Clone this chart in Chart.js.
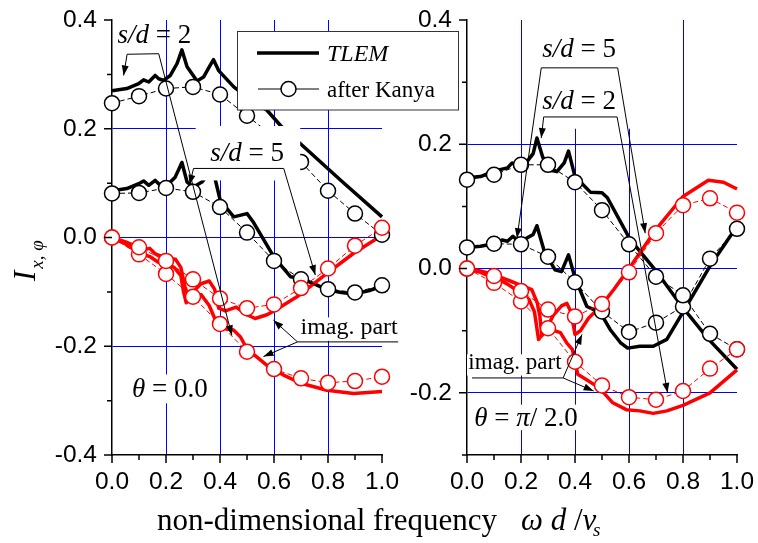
<!DOCTYPE html>
<html>
<head>
<meta charset="utf-8">
<script src="https://cdn.jsdelivr.net/npm/chart.js@4"></script>
<style>
  html, body { margin: 0; padding: 0; background: #fff; }
  #wrap { position: relative; width: 758px; height: 543px; }
  #wrap canvas { position: absolute; left: 0; top: 0; }
</style>
</head>
<body>
<div id="wrap">
  <canvas id="left" width="758" height="543"></canvas>
  <canvas id="right" width="758" height="543"></canvas>
</div>
<script>
// ---- data ----
const kanyaX = [0, 0.1, 0.2, 0.3, 0.4, 0.5, 0.6, 0.7, 0.8, 0.9, 1.0];

// theta = 0.0 (left panel)
const l2ReKanya = [0.247, 0.260, 0.274, 0.277, 0.263, 0.224, 0.185, 0.139, 0.086, 0.044, 0.005];
const l5ReKanya = [0.081, 0.082, 0.091, 0.084, 0.056, 0.009, -0.043, -0.077, -0.095, -0.101, -0.088];
const l5ImKanya = [0, -0.018, -0.043, -0.077, -0.112, -0.130, -0.123, -0.093, -0.057, -0.015, 0.018];
const l2ImKanya = [0, -0.031, -0.067, -0.109, -0.159, -0.210, -0.242, -0.259, -0.267, -0.264, -0.256];

const l2ReTlemX = [0, 0.055, 0.099, 0.117, 0.136, 0.160, 0.173, 0.191, 0.216, 0.241, 0.259, 0.278, 0.315, 0.339, 0.364, 0.376, 0.395, 0.451, 0.5, 0.574, 0.624, 0.697, 0.85, 1.0];
const l2ReTlemY = [0.270, 0.274, 0.283, 0.290, 0.286, 0.298, 0.292, 0.289, 0.298, 0.320, 0.345, 0.314, 0.288, 0.295, 0.317, 0.327, 0.307, 0.277, 0.258, 0.234, 0.206, 0.173, 0.104, 0.038];
const l5ReTlemX = [0, 0.055, 0.099, 0.117, 0.136, 0.160, 0.179, 0.204, 0.234, 0.259, 0.278, 0.302, 0.333, 0.358, 0.376, 0.401, 0.451, 0.5, 0.525, 0.6, 0.661, 0.697, 0.747, 0.796, 0.85, 0.895, 0.95, 1.0];
const l5ReTlemY = [0.086, 0.090, 0.099, 0.104, 0.096, 0.105, 0.096, 0.096, 0.111, 0.138, 0.102, 0.093, 0.102, 0.117, 0.120, 0.068, 0.038, 0.044, 0.027, -0.036, -0.072, -0.075, -0.085, -0.096, -0.101, -0.104, -0.098, -0.090];
const l5ImTlemX = [0, 0.05, 0.1, 0.12, 0.14, 0.16, 0.2, 0.235, 0.255, 0.27, 0.28, 0.3, 0.33, 0.36, 0.38, 0.395, 0.42, 0.46, 0.5, 0.53, 0.574, 0.6, 0.685, 0.796, 0.895, 1.0];
const l5ImTlemY = [0, -0.008, -0.018, -0.022, -0.020, -0.030, -0.038, -0.040, -0.055, -0.090, -0.105, -0.100, -0.085, -0.080, -0.095, -0.130, -0.135, -0.128, -0.142, -0.149, -0.142, -0.135, -0.109, -0.066, -0.029, 0.004];
const l2ImTlemX = [0, 0.05, 0.1, 0.14, 0.17, 0.2, 0.23, 0.255, 0.265, 0.275, 0.3, 0.33, 0.36, 0.39, 0.42, 0.45, 0.476, 0.5, 0.574, 0.635, 0.7, 0.796, 0.895, 1.0];
const l2ImTlemY = [0, -0.012, -0.028, -0.035, -0.045, -0.050, -0.055, -0.070, -0.100, -0.120, -0.108, -0.105, -0.125, -0.160, -0.168, -0.170, -0.183, -0.205, -0.235, -0.253, -0.268, -0.281, -0.287, -0.283];

// theta = pi/2 (right panel)
const r2ReKanya = [0.143, 0.151, 0.167, 0.167, 0.139, 0.094, 0.039, -0.013, -0.043, -0.105, -0.130];
const r5ReKanya = [0.034, 0.040, 0.039, 0.019, -0.022, -0.069, -0.102, -0.087, -0.061, 0.016, 0.064];
const r5ImKanya = [0, -0.012, -0.036, -0.066, -0.077, -0.057, -0.006, 0.057, 0.102, 0.113, 0.090];
const r2ImKanya = [0, -0.023, -0.053, -0.096, -0.150, -0.188, -0.207, -0.211, -0.197, -0.161, -0.130];

const r2ReTlemX = [0, 0.05, 0.1, 0.13, 0.15, 0.167, 0.19, 0.222, 0.245, 0.259, 0.28, 0.3, 0.333, 0.36, 0.376, 0.4, 0.457, 0.5, 0.52, 0.604, 0.697, 0.796, 0.895, 1.0];
const r2ReTlemY = [0.146, 0.148, 0.157, 0.160, 0.162, 0.170, 0.164, 0.172, 0.185, 0.210, 0.180, 0.159, 0.156, 0.170, 0.189, 0.148, 0.123, 0.122, 0.114, 0.047, -0.002, -0.061, -0.114, -0.162];
const r5ReTlemX = [0, 0.05, 0.1, 0.13, 0.15, 0.17, 0.19, 0.222, 0.245, 0.259, 0.284, 0.31, 0.326, 0.35, 0.376, 0.4, 0.444, 0.494, 0.53, 0.568, 0.595, 0.64, 0.69, 0.74, 0.8, 0.9, 1.0];
const r5ReTlemY = [0.034, 0.036, 0.040, 0.046, 0.044, 0.052, 0.044, 0.049, 0.055, 0.069, 0.031, 0.010, -0.002, -0.005, 0.022, -0.015, -0.061, -0.071, -0.098, -0.119, -0.128, -0.125, -0.125, -0.114, -0.070, 0.004, 0.068];
const r5ImTlemX = [0, 0.05, 0.1, 0.13, 0.16, 0.2, 0.24, 0.26, 0.27, 0.277, 0.29, 0.32, 0.35, 0.37, 0.385, 0.4, 0.42, 0.45, 0.5, 0.543, 0.6, 0.64, 0.7, 0.8, 0.894, 0.95, 1.0];
const r5ImTlemY = [0, -0.004, -0.010, -0.015, -0.020, -0.027, -0.034, -0.055, -0.077, -0.108, -0.100, -0.075, -0.060, -0.056, -0.070, -0.106, -0.100, -0.080, -0.058, -0.034, 0.000, 0.025, 0.063, 0.116, 0.142, 0.139, 0.128];
const r2ImTlemX = [0, 0.05, 0.1, 0.12, 0.15, 0.2, 0.23, 0.25, 0.265, 0.29, 0.31, 0.346, 0.37, 0.39, 0.41, 0.44, 0.49, 0.54, 0.59, 0.64, 0.69, 0.74, 0.8, 0.9, 1.0];
const r2ImTlemY = [0, -0.006, -0.015, -0.018, -0.025, -0.040, -0.050, -0.070, -0.114, -0.100, -0.098, -0.103, -0.120, -0.130, -0.170, -0.178, -0.192, -0.216, -0.227, -0.229, -0.233, -0.229, -0.220, -0.200, -0.163];

// ticks and grid
const xTickLabels = [0, 0.2, 0.4, 0.6, 0.8, 1.0];
const xGridLines = [0.2, 0.4, 0.6, 0.8];
const leftYTickLabels = [0.4, 0.2, 0, -0.2, -0.4];
const rightYTickLabels = [0.4, 0.2, 0, -0.2];
const yGridLines = [0.2, 0, -0.2];

const RED = '#ff0000', BLACK = '#000000', BLUE = '#0000ff';
const SERIF = '"Liberation Serif", "Times New Roman", serif';
const SANS = '"Liberation Sans", Arial, sans-serif';

const near = (list, v) => list.some(t => Math.abs(t - v) < 1e-6);
const fmt = v => Math.abs(v) < 1e-9 ? '0.0' : v.toFixed(1);
const pts = (xs, ys) => xs.map((x, i) => ({ x: x, y: ys[i] }));

function kanya(ys, color) {
  return {
    data: pts(kanyaX, ys), borderColor: color, borderWidth: 1, borderDash: [5, 3],
    pointRadius: 7.5, pointBorderWidth: 1.5, pointBackgroundColor: '#fff', pointBorderColor: color,
    clip: false
  };
}
function tlem(xs, ys, color) {
  return {
    data: pts(xs, ys), borderColor: color, borderWidth: 3.5, pointRadius: 0,
    borderJoinStyle: 'round', clip: false
  };
}

function makeScales(yMin, yMax, yLabels, yWidth) {
  return {
    x: {
      type: 'linear', min: 0, max: 1,
      ticks: {
        stepSize: 0.1, autoSkip: false, maxRotation: 0, padding: 13, color: '#000',
        font: { family: SANS, size: 24.5 },
        callback: v => near(xTickLabels, v) ? fmt(v) : ''
      },
      grid: { drawTicks: false, lineWidth: 1, color: c => near(xGridLines, c.tick.value) ? BLUE : 'rgba(0,0,0,0)' },
      border: { color: '#000', width: 1.5 },
      afterFit: s => { s.height = 88; s.paddingLeft = 0; s.paddingRight = 0; }
    },
    y: {
      type: 'linear', min: yMin, max: yMax,
      ticks: {
        stepSize: 0.1, autoSkip: false, padding: 15, color: '#000',
        font: { family: SANS, size: 24.5 },
        callback: v => near(yLabels, v) ? fmt(v) : ''
      },
      grid: { drawTicks: false, lineWidth: 1, color: c => near(yGridLines, c.tick.value) ? BLUE : 'rgba(0,0,0,0)' },
      border: { color: '#000', width: 1.5 },
      afterFit: s => { s.width = yWidth; s.paddingTop = 0; s.paddingBottom = 0; }
    }
  };
}

// ---- annotation helpers ----
function drawParts(ctx, parts, x, y, size) {
  ctx.textBaseline = 'alphabetic';
  ctx.textAlign = 'left';
  parts.forEach(p => {
    ctx.font = (p[1] ? 'italic ' : '') + size + 'px ' + SERIF;
    ctx.fillText(p[0], x, y);
    x += ctx.measureText(p[0]).width;
  });
}
function arrowHead(ctx, x0, y0, x1, y1) {
  const a = Math.atan2(y1 - y0, x1 - x0), len = 10, w = 3.5;
  ctx.beginPath();
  ctx.moveTo(x1, y1);
  ctx.lineTo(x1 - len * Math.cos(a) + w * Math.sin(a), y1 - len * Math.sin(a) - w * Math.cos(a));
  ctx.lineTo(x1 - len * Math.cos(a) - w * Math.sin(a), y1 - len * Math.sin(a) + w * Math.cos(a));
  ctx.closePath();
  ctx.fill();
}
function drawNotes(chart, notes) {
  const ctx = chart.ctx, sx = chart.scales.x, sy = chart.scales.y;
  const P = (x, y) => [sx.getPixelForValue(x), sy.getPixelForValue(y)];
  ctx.save();
  ctx.fillStyle = '#fff';
  notes.boxes.forEach(b => {
    const a = P(b[0], b[1]), c = P(b[2], b[3]);
    ctx.fillRect(a[0], a[1], c[0] - a[0], c[1] - a[1]);
  });
  ctx.strokeStyle = '#000';
  ctx.fillStyle = '#000';
  ctx.lineWidth = 1;
  notes.paths.forEach(p => {
    const q = p.pts.map(v => P(v[0], v[1]));
    ctx.beginPath();
    q.forEach((v, i) => i ? ctx.lineTo(v[0], v[1]) : ctx.moveTo(v[0], v[1]));
    ctx.stroke();
    if (p.start) arrowHead(ctx, q[1][0], q[1][1], q[0][0], q[0][1]);
    if (p.end) { const n = q.length; arrowHead(ctx, q[n - 2][0], q[n - 2][1], q[n - 1][0], q[n - 1][1]); }
  });
  notes.texts.forEach(t => {
    const a = P(t.x, t.y);
    drawParts(ctx, t.parts, a[0], a[1], t.size);
  });
  ctx.restore();
}
function drawTickMarks(chart, yLabels) {
  const ctx = chart.ctx, sx = chart.scales.x, sy = chart.scales.y, area = chart.chartArea;
  ctx.save();
  ctx.strokeStyle = '#000';
  ctx.lineWidth = 1.5;
  ctx.beginPath();
  sx.ticks.forEach(t => {
    const px = sx.getPixelForValue(t.value), len = near(xTickLabels, t.value) ? 8 : 5;
    ctx.moveTo(px, area.bottom); ctx.lineTo(px, area.bottom + len);
  });
  sy.ticks.forEach(t => {
    const py = sy.getPixelForValue(t.value), len = near(yLabels, t.value) ? 8 : 5;
    ctx.moveTo(area.left, py); ctx.lineTo(area.left - len, py);
  });
  ctx.stroke();
  ctx.restore();
}

const leftNotes = {
  boxes: [[0.31, 0.205, 0.697, 0.105], [0.69, -0.147, 1.07, -0.19], [0.07, -0.252, 0.36, -0.305]],
  paths: [
    { pts: [[0.043, 0.298], [0.056, 0.337], [0.173, 0.338], [0.444, -0.180]], start: true, end: true },
    { pts: [[0.287, 0.097], [0.302, 0.127], [0.636, 0.127], [0.753, -0.069]], start: true, end: true },
    { pts: [[1.06, -0.192], [0.687, -0.192]] },
    { pts: [[0.687, -0.192], [0.598, -0.152]], end: true },
    { pts: [[0.687, -0.192], [0.561, -0.219]], end: true }
  ],
  texts: [
    { parts: [['s/d', true], [' = 2', false]], x: 0.02, y: 0.357, size: 27 },
    { parts: [['s/d', true], [' = 5', false]], x: 0.364, y: 0.140, size: 27 },
    { parts: [['imag. part', false]], x: 0.698, y: -0.178, size: 24 },
    { parts: [['\u03b8', true], [' = 0.0', false]], x: 0.074, y: -0.294, size: 27 }
  ]
};
const rightNotes = {
  boxes: [[0.234, 0.42, 0.642, 0.225], [0.0, -0.138, 0.357, -0.172], [0.027, -0.219, 0.41, -0.26]],
  paths: [
    { pts: [[0.185, 0.049], [0.275, 0.323], [0.558, 0.323], [0.660, 0.057]], start: true, end: true },
    { pts: [[0.275, 0.210], [0.284, 0.244], [0.556, 0.244], [0.743, -0.200]], start: true, end: true },
    { pts: [[0.0185, -0.176], [0.356, -0.176]] },
    { pts: [[0.356, -0.176], [0.426, -0.106]], end: true },
    { pts: [[0.356, -0.176], [0.469, -0.197]], end: true }
  ],
  texts: [
    { parts: [['s/d', true], [' = 5', false]], x: 0.279, y: 0.341, size: 27 },
    { parts: [['s/d', true], [' = 2', false]], x: 0.279, y: 0.256, size: 27 },
    { parts: [['imag. part', false]], x: 0.005, y: -0.161, size: 23 },
    { parts: [['\u03b8', true], [' = ', false], ['\u03c0', true], ['/ 2.0', false]], x: 0.027, y: -0.254, size: 27 }
  ]
};

function datasetsFor(im5, im2, re2, re5, t) {
  return [
    kanya(im5, RED), kanya(im2, RED), kanya(re2, BLACK), kanya(re5, BLACK),
    tlem(t[0], t[1], RED), tlem(t[2], t[3], RED), tlem(t[4], t[5], BLACK), tlem(t[6], t[7], BLACK)
  ];
}

const common = { responsive: false, animation: false, devicePixelRatio: 1,
  plugins: { legend: { display: false }, tooltip: { enabled: false } },
  elements: { line: { tension: 0 } } };

new Chart(document.getElementById('left'), {
  type: 'line',
  data: { datasets: datasetsFor(l5ImKanya, l2ImKanya, l2ReKanya, l5ReKanya,
    [l5ImTlemX, l5ImTlemY, l2ImTlemX, l2ImTlemY, l2ReTlemX, l2ReTlemY, l5ReTlemX, l5ReTlemY]) },
  options: Object.assign({}, common, {
    layout: { padding: { left: 0, right: 376, top: 20, bottom: 0 } },
    scales: makeScales(-0.4, 0.4, leftYTickLabels, 112)
  }),
  plugins: [{
    id: 'leftNotes',
    afterDatasetsDraw: c => drawNotes(c, leftNotes),
    afterDraw: c => {
      drawTickMarks(c, leftYTickLabels);
      // y axis title
      const ctx = c.ctx;
      ctx.save();
      ctx.fillStyle = '#000';
      ctx.translate(35, 281);
      ctx.rotate(-Math.PI / 2);
      ctx.font = 'italic 31px ' + SERIF;
      ctx.fillText('I', 0, 0);
      const w = ctx.measureText('I').width;
      ctx.font = 'italic 19px ' + SERIF;
      ctx.fillText('x, \u03c6', w + 2, 8);
      ctx.restore();
    }
  }]
});

new Chart(document.getElementById('right'), {
  type: 'line',
  data: { datasets: datasetsFor(r5ImKanya, r2ImKanya, r2ReKanya, r5ReKanya,
    [r5ImTlemX, r5ImTlemY, r2ImTlemX, r2ImTlemY, r2ReTlemX, r2ReTlemY, r5ReTlemX, r5ReTlemY]) },
  options: Object.assign({}, common, {
    layout: { padding: { left: 407, right: 21, top: 20, bottom: 0 } },
    scales: makeScales(-0.3, 0.4, rightYTickLabels, 60)
  }),
  plugins: [{
    id: 'rightNotes',
    afterDatasetsDraw: c => drawNotes(c, rightNotes),
    afterDraw: c => {
      drawTickMarks(c, rightYTickLabels);
      const ctx = c.ctx;
      ctx.save();
      // legend
      ctx.fillStyle = '#fff';
      ctx.fillRect(237, 31.5, 221, 78.5);
      ctx.strokeStyle = '#333';
      ctx.lineWidth = 1;
      ctx.strokeRect(237.5, 31.5, 221, 78.5);
      ctx.strokeStyle = '#000';
      ctx.lineWidth = 3.5;
      ctx.beginPath(); ctx.moveTo(257, 53); ctx.lineTo(319, 53); ctx.stroke();
      ctx.lineWidth = 1;
      ctx.beginPath(); ctx.moveTo(258, 89); ctx.lineTo(319, 89); ctx.stroke();
      ctx.beginPath(); ctx.arc(288.5, 89, 7.5, 0, Math.PI * 2);
      ctx.fillStyle = '#fff'; ctx.fill(); ctx.lineWidth = 1.5; ctx.stroke();
      ctx.fillStyle = '#000';
      drawParts(ctx, [['TLEM', true]], 327, 61, 24);
      drawParts(ctx, [['after Kanya', false]], 327, 97, 23);
      // x axis title
      drawParts(ctx, [['non-dimensional frequency', false]], 157, 530, 31);
      drawParts(ctx, [['\u03c9', true], [' d', true], [' /', false], ['v', true]], 521, 530, 31);
      drawParts(ctx, [['s', true]], 593, 536, 19);
      ctx.restore();
    }
  }]
});
</script>
</body>
</html>
